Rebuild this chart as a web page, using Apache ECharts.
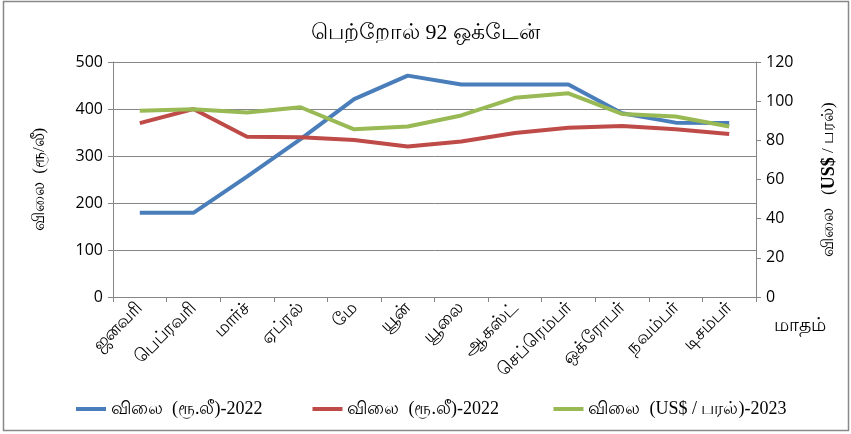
<!DOCTYPE html>
<html>
<head>
<meta charset="utf-8">
<script src="https://cdn.jsdelivr.net/npm/echarts@6/dist/echarts.min.js"></script>
<style>
html,body{margin:0;padding:0;background:#fff;}
#c{width:851px;height:434px;}
</style>
</head>
<body>
<div id="c"></div>
<script>
const months = ['ஜனவரி','பெப்ரவரி','மார்ச்','ஏப்ரல்','மே','யூன்','யூலை','ஆகஸ்ட்','செப்ரெம்பர்','ஒக்ரோபர்','நவம்பர்','டிசம்பர்'];
const priceRs2022 = [179, 179, 256, 336, 421, 471, 452, 452, 452, 391, 371, 370];
const priceRsRed = [370, 400, 341, 340, 334, 320, 331, 349, 360, 364, 357, 347];
const priceUsd2023 = [95.1, 95.9, 94.2, 96.9, 85.6, 87.1, 92.7, 101.7, 104.0, 93.5, 92.2, 87.1];
const leftTicks = [0, 100, 200, 300, 400, 500];
const rightTicks = [0, 20, 40, 60, 80, 100, 120];
const seriesNames = ['விலை  (ரூ.லீ)-2022', 'விலை  (ரூ.லீ)-2022 ', 'விலை  (US$ / பரல்)-2023'];

const chart = echarts.init(document.getElementById('c'));
const axisCol = '#868686';
const serif = '"Liberation Serif", "DejaVu Serif", serif';
const sans = '"Open Sans", "Liberation Sans", sans-serif';
chart.setOption({
  animation: false,
  backgroundColor: '#fff',
  title: {
    text: 'பெற்றோல் 92 ஒக்டேன்',
    left: 'center', top: 17,
    textStyle: {fontFamily: serif, fontSize: 22, fontWeight: 'normal', color: '#000'}
  },
  graphic: [
    {type: 'rect', shape: {x: 3.5, y: 1.5, width: 845, height: 429}, style: {fill: 'none', stroke: '#888', lineWidth: 1.5}, silent: true},
    {type: 'text', left: 774, top: 316, style: {text: 'மாதம்', fontFamily: sans, fontSize: 19, fill: '#000'}}
  ],
  legend: {
    top: 395, left: 71,
    itemGap: 50, itemWidth: 30, itemHeight: 4,
    icon: 'rect',
    textStyle: {fontFamily: serif, fontSize: 18, color: '#000'},
    data: seriesNames
  },
  grid: {left: 113, right: 95, top: 62, bottom: 137},
  xAxis: {
    type: 'category', data: months, boundaryGap: true,
    axisLine: {lineStyle: {color: axisCol}},
    axisTick: {show: true, length: 5, lineStyle: {color: axisCol}, alignWithLabel: false},
    axisLabel: {rotate: 45, fontFamily: sans, fontSize: 18, color: '#000', margin: 8, interval: 0}
  },
  yAxis: [
    {
      type: 'value', min: 0, max: 500, interval: 100, position: 'left',
      name: 'விலை  (ரூ/லீ)', nameLocation: 'middle', nameGap: 65, nameMoveOverlap: false,
      nameTextStyle: {fontFamily: serif, fontSize: 17, color: '#000'},
      axisLine: {show: true, lineStyle: {color: axisCol}},
      axisTick: {show: true, length: 5, lineStyle: {color: axisCol}},
      axisLabel: {fontFamily: sans, fontSize: 16, color: '#000', margin: 10},
      splitLine: {show: true, lineStyle: {color: axisCol, width: 1}}
    },
    {
      type: 'value', min: 0, max: 120, interval: 20, position: 'right',
      name: '{n|விலை   (}{b|US$}{n| / பரல்)}', nameLocation: 'middle', nameGap: 64, nameMoveOverlap: false,
      nameTextStyle: {fontFamily: serif, fontSize: 17, color: '#000', fontWeight: 'normal',
        rich: {
          n: {fontFamily: serif, fontSize: 17, color: '#000'},
          b: {fontFamily: serif, fontSize: 18, fontWeight: 'bold', color: '#000'}
        }},
      axisLine: {show: true, lineStyle: {color: axisCol}},
      axisTick: {show: true, length: 5, lineStyle: {color: axisCol}},
      axisLabel: {fontFamily: sans, fontSize: 16, color: '#000', margin: 10},
      splitLine: {show: false}
    }
  ],
  series: [
    {name: seriesNames[0], type: 'line', yAxisIndex: 0, data: priceRs2022, symbol: 'none',
     lineStyle: {color: '#4A7EBB', width: 4}, itemStyle: {color: '#4A7EBB'}},
    {name: seriesNames[1], type: 'line', yAxisIndex: 0, data: priceRsRed, symbol: 'none',
     lineStyle: {color: '#BE4B48', width: 4}, itemStyle: {color: '#BE4B48'}},
    {name: seriesNames[2], type: 'line', yAxisIndex: 1, data: priceUsd2023, symbol: 'none',
     lineStyle: {color: '#98B954', width: 4}, itemStyle: {color: '#98B954'}}
  ]
});
</script>
</body>
</html>
